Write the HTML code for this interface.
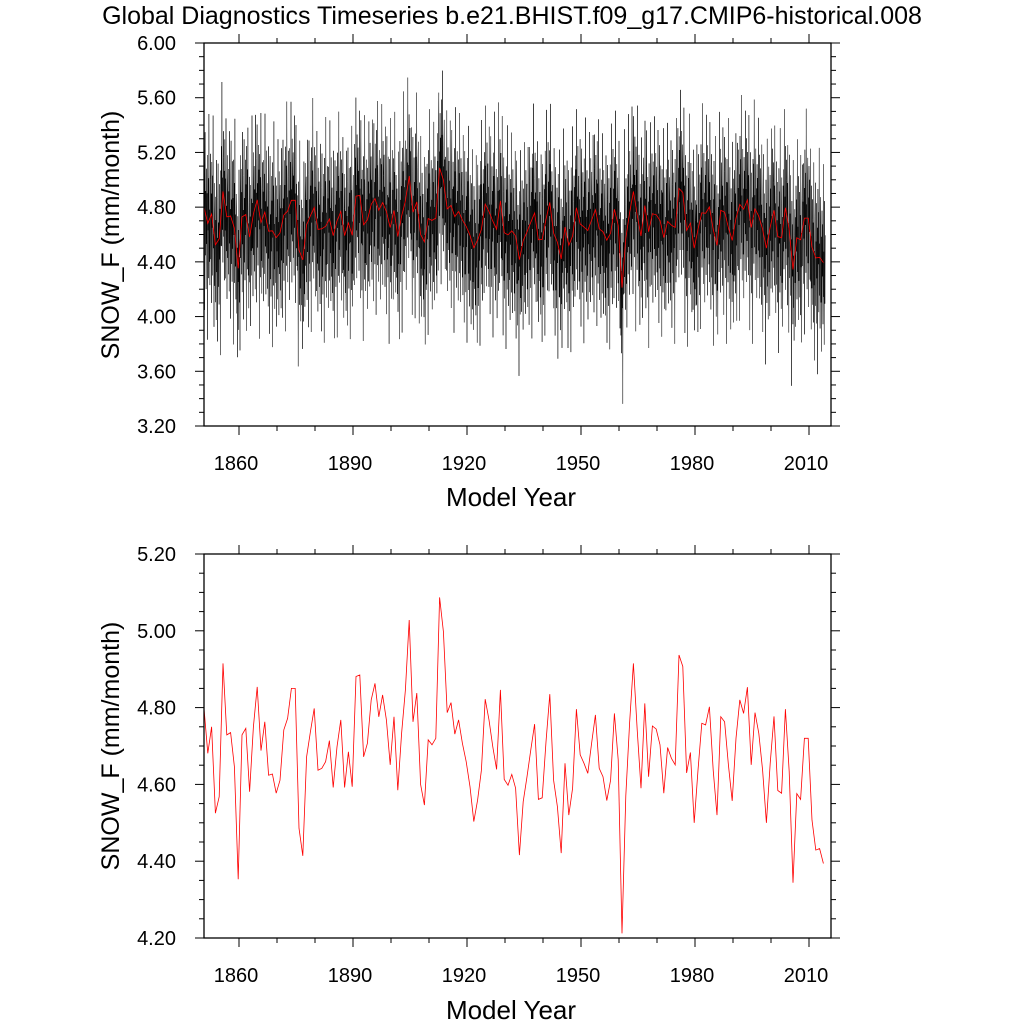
<!DOCTYPE html>
<html><head><meta charset="utf-8"><style>
html,body{margin:0;padding:0;background:#fff;}
svg{display:block;font-family:"Liberation Sans",sans-serif;}
</style></head><body>
<svg id="chart" width="1024" height="1024" viewBox="0 0 1024 1024" xmlns="http://www.w3.org/2000/svg">
<text x="512" y="24" font-size="25" text-anchor="middle">Global Diagnostics Timeseries b.e21.BHIST.f09_g17.CMIP6-historical.008</text>
<g id="top"></g>
<g id="bot"></g>
</svg>
<script>
// Annual means (1850..2013)
const annualValues = [4.798,4.681,4.75,4.525,4.568,4.915,4.729,4.735,4.646,4.353,
4.729,4.746,4.581,4.75,4.854,4.688,4.763,4.624,4.627,4.577,
4.611,4.742,4.772,4.85,4.85,4.486,4.414,4.672,4.737,4.798,
4.637,4.642,4.659,4.714,4.592,4.698,4.768,4.592,4.685,4.594,
4.881,4.885,4.672,4.707,4.82,4.863,4.776,4.833,4.768,4.651,
4.776,4.585,4.733,4.846,5.028,4.763,4.838,4.60,4.546,4.716,
4.703,4.72,5.087,4.998,4.787,4.813,4.731,4.768,4.707,4.659,
4.594,4.503,4.559,4.637,4.822,4.768,4.698,4.639,4.846,4.613,
4.598,4.626,4.59,4.416,4.555,4.62,4.69,4.757,4.561,4.565,
4.711,4.835,4.611,4.542,4.421,4.655,4.52,4.59,4.796,4.677,
4.655,4.629,4.707,4.781,4.642,4.62,4.558,4.611,4.785,4.664,
4.212,4.57,4.76,4.915,4.742,4.59,4.811,4.62,4.752,4.744,
4.703,4.577,4.696,4.668,4.651,4.937,4.907,4.63,4.683,4.50,
4.637,4.759,4.755,4.802,4.637,4.52,4.776,4.763,4.651,4.557,
4.72,4.82,4.785,4.853,4.651,4.787,4.733,4.637,4.50,4.655,
4.777,4.584,4.577,4.796,4.633,4.344,4.576,4.561,4.72,4.72,
4.507,4.429,4.433,4.394];
// Monthly anomalies (estimated noise pattern, cycled)
const monthlyAnom = [0.35,-0.42,0.18,-0.55,0.62,-0.2,0.05,-0.75,0.3,0.55,-0.35,0.12,
-0.48,0.4,-0.15,0.22,-0.85,0.5,-0.05,0.33,-0.4,0.8,-0.28,0.1,-0.52,0.25,0.44,-0.33,
0.15,-0.65,0.38,-0.1,0.28,-0.45,0.72,-0.25,0.08,-0.6,0.45,-0.3,0.2];
const topYTicks = [3.2,3.6,4.0,4.4,4.8,5.2,5.6,6.0];
const botYTicks = [4.2,4.4,4.6,4.8,5.0,5.2];
const xTickYears = [1860,1890,1920,1950,1980,2010];

const NS="http://www.w3.org/2000/svg";
function mk(tag,attrs,parent,txt){const e=document.createElementNS(NS,tag);for(const k in attrs)e.setAttribute(k,attrs[k]);if(txt!==undefined)e.textContent=txt;parent.appendChild(e);return e;}
const L=204,R=831;
function xScale(yr){return 239+(yr-1860)*3.8;}

function panel(g,T,B,ymin,ymax,yMajor,yMinorStep,yTicks,yTitleY,xTitleY,drawMonthly){
  const yS=v=>B-(v-ymin)/(ymax-ymin)*(B-T);
  if(drawMonthly){
    let d="";
    for(let i=0;i<annualValues.length;i++){for(let m=0;m<12;m++){
      const k=i*12+m;const v=annualValues[i]+monthlyAnom[k%monthlyAnom.length];
      const x=xScale(1850.8+i+m/12-0.46);
      if(x<L||x>R)continue;
      d+=(d?"L":"M")+x.toFixed(1)+" "+yS(v).toFixed(1);}}
    const p=mk("path",{d:d,fill:"none",stroke:"#000","stroke-width":"0.5"},g);
    
    
  }
  let d2="";
  annualValues.forEach((v,i)=>{const x=xScale(1850.8+i);d2+=(i?"L":"M")+x.toFixed(1)+" "+yS(v).toFixed(1);});
  const a=mk("path",{d:d2,fill:"none",stroke:"#f00","stroke-width":"0.8"},g);
  
  
  const fr=mk("rect",{x:L,y:T,width:R-L,height:B-T,fill:"none",stroke:"#000","stroke-width":"1.3"},g);
  
  
  const n=Math.round((ymax-ymin)/yMinorStep);
  for(let i=0;i<=n;i++){const v=ymin+i*yMinorStep;const y=yS(v);
    const major=Math.abs((v-ymin)/yMajor-Math.round((v-ymin)/yMajor))<1e-6;const len=major?9:5;
    mk("line",{x1:L,x2:L-len,y1:y,y2:y,stroke:"#000","stroke-width":"1"},g);
    mk("line",{x1:R,x2:R+len,y1:y,y2:y,stroke:"#000","stroke-width":"1"},g);}
  yTicks.forEach(v=>{const t=mk("text",{x:L-28,y:yS(v)+7,"font-size":"20","text-anchor":"end"},g,v.toFixed(2));
    
    });
  for(let yr=1860;yr<=2010;yr+=10){const x=xScale(yr);const major=(yr-1860)%30===0;const len=major?9:5;
    mk("line",{x1:x,x2:x,y1:B,y2:B+len,stroke:"#000","stroke-width":"1"},g);
    mk("line",{x1:x,x2:x,y1:T,y2:T-len,stroke:"#000","stroke-width":"1"},g);}
  xTickYears.forEach(yr=>{const t=mk("text",{x:xScale(yr)-3,y:B+44,"font-size":"20","text-anchor":"middle"},g,String(yr));
    
    });
  const xt=mk("text",{x:511,y:xTitleY,"font-size":"26","text-anchor":"middle"},g,"Model Year");
  
  
  const yt=mk("text",{x:0,y:0,"font-size":"25","text-anchor":"middle",transform:`translate(119,${yTitleY}) rotate(-90)`},g,"SNOW_F (mm/month)");
  
  
}
panel(document.getElementById('top'),43,426,3.2,6.0,0.4,0.1,topYTicks,235,506,true);
panel(document.getElementById('bot'),554,938,4.2,5.2,0.2,0.05,botYTicks,746,1019,false);
</script>
</body></html>
